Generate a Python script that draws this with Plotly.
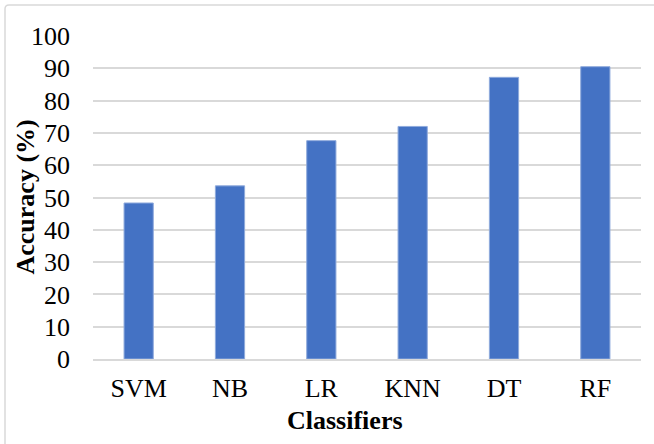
import plotly.graph_objects as go

# Classifier accuracy results
classifiers = ["SVM", "NB", "LR", "KNN", "DT", "RF"]
accuracy = [48.3, 53.6, 67.6, 72.0, 87.2, 90.5]
y_ticks = list(range(0, 101, 10))

FONT = "Liberation Serif, Times New Roman, serif"
W, H = 654, 444
M_L, M_R, M_T, M_B = 93, 13, 36, 85
plot_w = W - M_L - M_R
plot_h = H - M_T - M_B

fig = go.Figure(
    go.Bar(
        x=classifiers,
        y=accuracy,
        marker=dict(color="#4472C4", line=dict(color="#8FAADC", width=1)),
        hoverinfo="x+y",
    )
)

fig.update_layout(
    width=W,
    height=H,
    margin=dict(l=M_L, r=M_R, t=M_T, b=M_B, autoexpand=False),
    paper_bgcolor="white",
    plot_bgcolor="white",
    bargap=0.68,
    showlegend=False,
    font=dict(family=FONT, size=26, color="black"),
    xaxis=dict(
        showgrid=False,
        showline=True,
        linecolor="#D9D9D9",
        linewidth=1.5,
        ticks="",
        ticklabelstandoff=5,
        tickfont=dict(family=FONT, size=26, color="black"),
        automargin=False,
    ),
    yaxis=dict(
        range=[0, 100],
        tickvals=y_ticks,
        showgrid=True,
        gridcolor="#D9D9D9",
        gridwidth=1.5,
        zeroline=False,
        showline=False,
        ticks="",
        ticklabelstandoff=22,
        tickfont=dict(family=FONT, size=26, color="black"),
        automargin=False,
    ),
    annotations=[
        dict(
            text="Classifiers",
            xref="paper", yref="paper",
            x=(345 - M_L) / plot_w, y=(M_T + plot_h - 420) / plot_h,
            xanchor="center", yanchor="middle",
            showarrow=False,
            font=dict(family=FONT, size=26, color="black", weight="bold"),
        ),
        dict(
            text="Accuracy (%)",
            xref="paper", yref="paper",
            x=(25 - M_L) / plot_w, y=0.5,
            xanchor="center", yanchor="middle",
            textangle=-90,
            showarrow=False,
            font=dict(family=FONT, size=26, color="black", weight="bold"),
        ),
    ],
    shapes=[
        # chart-area frame (left and top edges visible)
        dict(
            type="path",
            xref="paper", yref="paper",
            path=(
                f"M {(5 - M_L) / plot_w},{(M_T + plot_h - 460) / plot_h} "
                f"L {(5 - M_L) / plot_w},{(M_T + plot_h - 9) / plot_h} "
                f"Q {(5 - M_L) / plot_w},{(M_T + plot_h - 5) / plot_h} "
                f"{(9 - M_L) / plot_w},{(M_T + plot_h - 5) / plot_h} "
                f"L {(670 - M_L) / plot_w},{(M_T + plot_h - 5) / plot_h}"
            ),
            line=dict(color="#D9D9D9", width=1.5),
        )
    ],
)

fig.write_html("out.html")
